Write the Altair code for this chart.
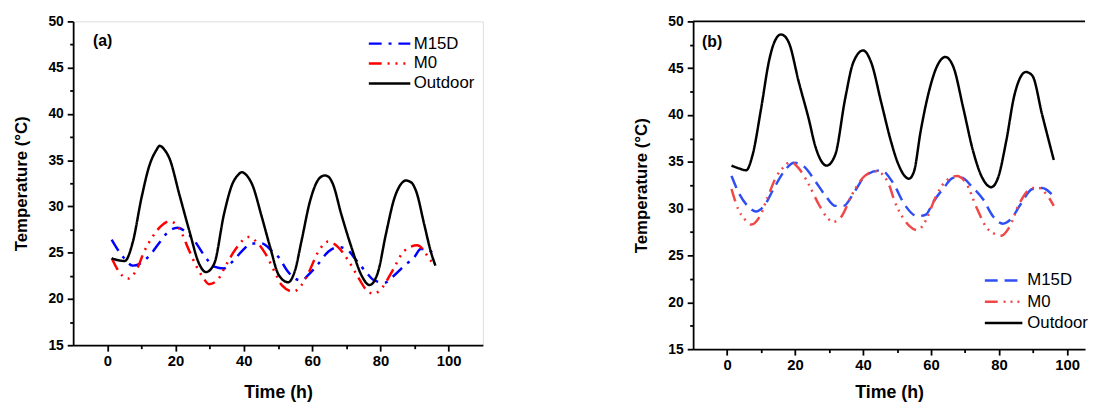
import altair as alt
import pandas as pd

FONT = "Liberation Sans"
SERIES = ["M15D", "M0", "Outdoor"]

# ---------------- Panel (a) ----------------
a_out_t = [1.3, 3.0, 5.1, 7.5, 10.0, 12.4, 14.4, 15.3, 16.8, 18.2, 21.1, 24.0, 26.9, 28.9, 31.3, 34.2,
           36.6, 38.3, 39.4, 40.7, 42.4, 45.3, 47.7, 50.2, 53.0, 55.0, 56.9, 59.4, 61.8, 62.6, 63.7,
           64.8, 66.1, 68.5, 71.5, 74.4, 76.8, 79.2, 81.6, 84.1, 86.2, 87.4, 89.0, 90.5, 92.8, 94.7, 96.1]
a_out_v = [24.4, 24.2, 24.1, 26.2, 30.9, 34.5, 36.1, 36.55, 36.1, 35.2, 31.3, 27.4, 23.8, 22.9, 23.8, 29.2,
           32.4, 33.4, 33.7, 33.4, 32.4, 28.8, 25.6, 22.6, 21.8, 23.1, 26.3, 30.6, 32.9, 33.2, 33.35,
           33.2, 32.4, 29.2, 25.6, 22.6, 21.5, 22.8, 27.0, 30.9, 32.5, 32.8, 32.6, 31.6, 28.1, 25.2, 23.6]

a_m15_t = [1.3, 4.7, 7.5, 9.5, 12.4, 15.3, 17.7, 20.6, 23.1, 25.5, 28.4, 31.3, 34.2, 36.6, 39.5, 42.4,
           45.3, 48.2, 50.2, 52.6, 55.0, 56.9, 58.9, 61.8, 64.7, 67.6, 70.0, 72.9, 75.8, 78.2, 81.2,
           83.6, 87.0, 89.9, 91.8, 93.5, 96.1]
a_m15_v = [26.4, 24.5, 23.6, 23.8, 24.7, 26.1, 27.2, 27.7, 27.2, 26.3, 24.7, 23.5, 23.3, 24.0, 25.2, 26.0,
           26.0, 25.2, 24.5, 23.1, 22.2, 22.0, 22.6, 23.8, 25.1, 25.6, 25.4, 24.2, 22.9, 22.0, 21.75,
           22.4, 23.6, 24.5, 25.4, 25.4, 24.5]

a_m0_t = [1.3, 3.7, 6.1, 8.5, 10.9, 13.4, 15.8, 18.2, 21.1, 24.0, 26.0, 27.9, 29.8, 32.2, 34.7, 37.6,
          41.4, 43.9, 46.3, 49.2, 51.1, 54.5, 56.9, 58.9, 61.8, 64.7, 67.6, 70.5, 73.4, 75.8, 78.0,
          80.7, 83.6, 87.0, 90.8, 93.7, 95.7]
a_m0_v = [24.4, 22.8, 22.2, 23.1, 25.2, 26.8, 27.9, 28.4, 27.6, 25.2, 23.6, 22.4, 21.6, 22.0, 23.6, 25.4,
          26.7, 26.1, 24.9, 22.8, 21.5, 20.8, 21.5, 22.8, 25.1, 26.2, 25.6, 24.2, 22.4, 21.0, 20.55,
          21.3, 23.1, 25.2, 25.8, 24.7, 23.6]

# ---------------- Panel (b) ----------------
b_out_t = [1.3, 3.5, 5.6, 7.5, 10.0, 12.4, 13.8, 15.8, 17.0, 18.2, 21.1, 24.0, 26.0, 29.3, 31.8, 34.7,
           37.1, 40.0, 42.4, 45.3, 48.2, 50.1, 53.5, 55.0, 56.9, 59.3, 61.8, 64.2, 66.6, 69.5, 72.4,
           74.8, 77.7, 79.7, 82.1, 84.5, 87.9, 89.8, 92.7, 96.1]
b_out_v = [34.6, 34.3, 34.1, 35.75, 40.7, 45.9, 47.7, 48.6, 48.4, 47.7, 43.5, 39.6, 36.6, 34.6, 35.75, 41.7,
           45.6, 46.9, 45.6, 41.4, 37.2, 35.0, 33.2, 34.0, 38.2, 42.4, 45.25, 46.2, 45.1, 40.7, 36.1,
           33.5, 32.3, 33.3, 37.2, 42.1, 44.6, 44.2, 40.0, 35.2]

b_m15_t = [1.3, 3.7, 6.6, 8.5, 10.9, 13.8, 16.8, 19.7, 22.6, 26.0, 28.9, 31.8, 34.2, 37.6, 40.9, 45.3,
           48.9, 52.1, 56.0, 58.4, 60.8, 63.7, 66.6, 69.0, 71.9, 75.3, 78.2, 81.1, 83.5, 86.4, 89.8,
           92.7, 95.6]
b_m15_v = [33.5, 31.5, 30.1, 29.7, 30.3, 32.2, 34.0, 34.9, 34.5, 32.9, 31.4, 30.3, 30.3, 31.9, 33.6, 34.1,
           32.7, 30.5, 29.2, 29.35, 30.8, 32.2, 33.3, 33.3, 32.4, 31.0, 29.2, 28.4, 28.9, 30.5, 32.1,
           32.2, 31.5]

b_m0_t = [1.3, 3.2, 5.1, 7.1, 9.5, 11.9, 14.3, 16.8, 18.7, 21.1, 24.0, 26.9, 29.3, 31.3, 33.7, 36.6,
          40.5, 43.8, 47.2, 49.6, 51.6, 53.5, 56.0, 58.4, 61.3, 64.2, 67.6, 70.5, 73.4, 76.3, 78.7,
          80.6, 83.0, 85.9, 89.8, 91.8, 94.2, 96.1]
b_m0_v = [32.1, 30.0, 28.9, 28.3, 29.1, 31.2, 33.3, 34.5, 35.0, 34.3, 32.6, 30.5, 29.1, 28.6, 29.2, 31.4,
          33.5, 34.0, 32.9, 30.5, 29.1, 28.2, 27.7, 28.7, 31.2, 32.9, 33.5, 32.6, 30.1, 28.0, 27.3,
          27.1, 28.0, 30.5, 32.2, 32.2, 31.4, 30.3]

x_ticks = [0, 10, 20, 30, 40, 50, 60, 70, 80, 90, 100]
y_ticks = [15, 17.5, 20, 22.5, 25, 27.5, 30, 32.5, 35, 37.5, 40, 42.5, 45, 47.5, 50]


def frame(t15, v15, t0, v0, tout, vout):
    rows = []
    for name, ts, vs in (("M15D", t15, v15), ("M0", t0, v0), ("Outdoor", tout, vout)):
        for t, v in zip(ts, vs):
            rows.append({"t": t, "T": v, "series": name})
    return pd.DataFrame(rows)


def panel(df, tag, width, height, x_max, colors, dashes, leg_x, leg_y, half_len, lab_off, row_pad,
          tag_x, tag_y, open_right, x_title_pad):
    legend = alt.Legend(
        title=None, orient="none", legendX=leg_x, legendY=leg_y,
        symbolType=f"M-{half_len},0H{half_len}", symbolSize=256, symbolStrokeWidth=2.5,
        labelFont=FONT, labelFontSize=17, labelOffset=lab_off, rowPadding=row_pad,
        padding=0, labelColor="black",
    )
    lines = alt.Chart(df).mark_line(strokeWidth=2.5, interpolate="monotone").encode(
        x=alt.X("t:Q", title="Time (h)",
                scale=alt.Scale(domain=[-10, x_max], nice=False, zero=False),
                axis=alt.Axis(values=x_ticks, grid=False, labelOverlap=False, labelFlush=False,
                              labelExpr="datum.value % 20 === 0 ? format(datum.value, 'd') : ''",
                              tickSize={"condition": {"test": "datum.value % 20 === 0", "value": 6}, "value": 3.5},
                              labelFont=FONT, labelFontSize=15, labelFontWeight="bold", labelPadding=3,
                              titleFont=FONT, titleFontSize=18, titleFontWeight="bold",
                              titlePadding=x_title_pad,
                              domainColor="black", domainWidth=1.8, tickColor="black", tickWidth=1.8,
                              labelColor="black", titleColor="black")),
        y=alt.Y("T:Q", title="Temperature (°C)",
                scale=alt.Scale(domain=[15, 50], nice=False, zero=False),
                axis=alt.Axis(values=y_ticks, grid=False, labelOverlap=False, labelFlush=False,
                              labelExpr="datum.value % 5 === 0 ? format(datum.value, 'd') : ''",
                              tickSize={"condition": {"test": "datum.value % 5 === 0", "value": 6}, "value": 3.5},
                              labelFont=FONT, labelFontSize=14, labelFontWeight="bold", labelPadding=4,
                              titleFont=FONT, titleFontSize=17, titleFontWeight="bold", titlePadding=18,
                              domainColor="black", domainWidth=1.8, tickColor="black", tickWidth=1.8,
                              labelColor="black", titleColor="black")),
        color=alt.Color("series:N", scale=alt.Scale(domain=SERIES, range=colors), legend=legend),
        strokeDash=alt.StrokeDash("series:N", scale=alt.Scale(domain=SERIES, range=dashes), legend=legend),
        order=alt.Order("ord:Q"),
    ).transform_calculate(ord="datum.series === 'Outdoor' ? 2 : (datum.series === 'M0' ? 1 : 0)")

    label = alt.Chart(pd.DataFrame({"lab": [tag]})).mark_text(
        font=FONT, fontSize=16, fontWeight="bold", align="left", baseline="middle", color="black"
    ).encode(text="lab:N", x=alt.value(tag_x), y=alt.value(tag_y))

    layers = [lines, label]
    props = dict(width=width, height=height)
    if open_right:
        top = alt.Chart(pd.DataFrame({"k": [0]})).mark_rule(color="black", strokeWidth=1.8).encode(
            x=alt.value(0), x2=alt.value(width), y=alt.value(0))
        layers.append(top)
        props["view"] = alt.ViewBackground(stroke="transparent")
    return alt.layer(*layers).properties(**props)


df_a = frame(a_m15_t, a_m15_v, a_m0_t, a_m0_v, a_out_t, a_out_v)
df_b = frame(b_m15_t, b_m15_v, b_m0_t, b_m0_v, b_out_t, b_out_v)

pa = panel(df_a, "(a)", 415, 328, 110, ["#0000ff", "#ff0000", "#000000"],
           [[13, 7, 3, 7], [13, 6, 2, 6, 2, 6, 2, 6], [1, 0]],
           311, 13, 2.625, 15, 2.2, 20, 20, False, 15)
pb = panel(df_b, "(b)", 397, 332, 105.3, ["#2f4ff5", "#f04848", "#000000"],
           [[13, 7], [13, 6, 2, 5, 2, 5, 2, 6], [1, 0]],
           305, 253, 2.375, 14.5, 3.5, 9, 21, True, 11)

chart = alt.hconcat(pa, pb, spacing=149).resolve_scale(
    color="independent", strokeDash="independent"
).properties(
    padding={"left": 3, "top": 3, "right": 0, "bottom": 0}
).configure_view(stroke="black", strokeWidth=1.8).configure(background="white")

chart.save("out.html", embed_options={"renderer": "svg", "actions": False})
